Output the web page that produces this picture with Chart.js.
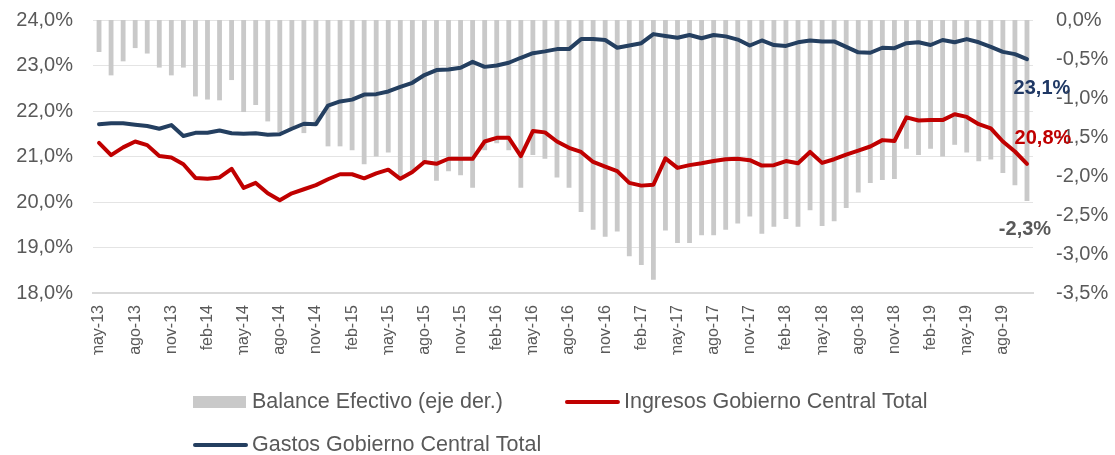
<!DOCTYPE html>
<html>
<head>
<meta charset="utf-8">
<script src="https://cdn.jsdelivr.net/npm/chart.js@4/dist/chart.umd.min.js"></script>
<style>
  html, body { margin: 0; padding: 0; background: #fff; }
  canvas { display: block; }
</style>
</head>
<body>
<canvas id="fiscalChart" width="1115" height="455"></canvas>
<script>
// Meses (may-13 .. oct-19)
const months = [
  'may-13','jun-13','jul-13','ago-13','sep-13','oct-13','nov-13','dic-13',
  'ene-14','feb-14','mar-14','abr-14','may-14','jun-14','jul-14','ago-14','sep-14','oct-14','nov-14','dic-14',
  'ene-15','feb-15','mar-15','abr-15','may-15','jun-15','jul-15','ago-15','sep-15','oct-15','nov-15','dic-15',
  'ene-16','feb-16','mar-16','abr-16','may-16','jun-16','jul-16','ago-16','sep-16','oct-16','nov-16','dic-16',
  'ene-17','feb-17','mar-17','abr-17','may-17','jun-17','jul-17','ago-17','sep-17','oct-17','nov-17','dic-17',
  'ene-18','feb-18','mar-18','abr-18','may-18','jun-18','jul-18','ago-18','sep-18','oct-18','nov-18','dic-18',
  'ene-19','feb-19','mar-19','abr-19','may-19','jun-19','jul-19','ago-19','sep-19','oct-19'
];

// Balance Efectivo (% PIB, eje derecho)
const balance = [
  -0.41,-0.71,-0.53,-0.36,-0.43,-0.61,-0.71,-0.61,-0.98,-1.02,
  -1.03,-0.77,-1.18,-1.09,-1.30,-1.44,-1.40,-1.45,-1.35,-1.62,
  -1.62,-1.67,-1.85,-1.75,-1.70,-2.03,-1.93,-1.82,-2.06,-1.94,
  -1.99,-2.15,-1.67,-1.58,-1.67,-2.15,-1.73,-1.78,-2.02,-2.15,
  -2.46,-2.69,-2.78,-2.71,-3.03,-3.14,-3.33,-2.70,-2.86,-2.86,
  -2.76,-2.76,-2.69,-2.61,-2.52,-2.74,-2.65,-2.55,-2.65,-2.44,
  -2.64,-2.58,-2.41,-2.21,-2.09,-2.05,-2.04,-1.65,-1.73,-1.65,
  -1.75,-1.60,-1.70,-1.81,-1.79,-1.96,-2.12,-2.32
];

// Ingresos Gobierno Central Total (% PIB)
const ingresos = [
  21.30,21.03,21.20,21.33,21.25,21.01,20.98,20.83,20.53,20.51,
  20.54,20.73,20.31,20.42,20.19,20.04,20.19,20.28,20.37,20.50,
  20.61,20.61,20.52,20.63,20.71,20.51,20.66,20.88,20.84,20.95,
  20.95,20.95,21.33,21.41,21.41,21.01,21.56,21.53,21.33,21.19,
  21.10,20.88,20.78,20.68,20.42,20.36,20.38,20.96,20.75,20.81,
  20.85,20.90,20.94,20.95,20.92,20.80,20.81,20.90,20.85,21.10,
  20.86,20.94,21.04,21.13,21.22,21.36,21.34,21.86,21.79,21.80,
  21.80,21.93,21.87,21.71,21.62,21.33,21.11,20.84
];

// Gastos Gobierno Central Total (% PIB)
const gastos = [
  21.71,21.73,21.73,21.70,21.67,21.61,21.69,21.45,21.52,21.52,
  21.57,21.51,21.50,21.51,21.48,21.49,21.61,21.72,21.71,22.12,
  22.21,22.25,22.36,22.37,22.43,22.53,22.62,22.79,22.90,22.91,
  22.95,23.08,22.97,23.00,23.06,23.17,23.27,23.31,23.36,23.36,
  23.58,23.58,23.56,23.39,23.44,23.49,23.69,23.65,23.61,23.67,
  23.60,23.67,23.64,23.57,23.44,23.55,23.45,23.43,23.51,23.55,
  23.53,23.53,23.41,23.29,23.28,23.39,23.38,23.49,23.51,23.45,
  23.56,23.51,23.58,23.51,23.41,23.30,23.25,23.14
];

const leftTicks = { min: 18, max: 24, step: 1 };
const rightTicks = { min: -3.5, max: 0, step: 0.5 };

const NAVY = '#243f60';
const RED = '#c00000';
const BAR_GRAY = '#c9c9c9';
const TEXT_GRAY = '#595959';
const FONT = '"Liberation Sans", Arial, sans-serif';

function pct(v) {
    const s = Math.abs(v) < 1e-9 ? '0,0' : v.toFixed(1).replace('.', ',');
    return s + '%';
}

// the y axes add tick padding to their top/bottom padding, drop it so the plot starts at the layout top
function pinWidth(w) {
    return function(scale) {
        scale.width = w;
        scale.paddingTop = 0;
        scale.paddingBottom = 0;
    };
}

// Etiquetas del último dato y leyenda dibujada a mano (dos filas, alineada a la izquierda)
const extrasPlugin = {
    id: 'extras',
    afterDraw(chart) {
        const ctx = chart.ctx;
        const last = months.length - 1;
        ctx.save();
        ctx.textAlign = 'center';
        ctx.textBaseline = 'middle';
        ctx.font = 'bold 20px ' + FONT;

        const pGastos = chart.getDatasetMeta(0).data[last];
        const pIngresos = chart.getDatasetMeta(1).data[last];
        const pBalance = chart.getDatasetMeta(2).data[last];

        ctx.fillStyle = '#1f3864';
        ctx.fillText(pct(gastos[last]), pGastos.x + 15, pGastos.y + 29);
        ctx.fillStyle = RED;
        ctx.fillText(pct(ingresos[last]), pIngresos.x + 16, pIngresos.y - 25);
        ctx.fillStyle = TEXT_GRAY;
        ctx.fillText(pct(balance[last]), pBalance.x - 2, pBalance.y + 29);

        // leyenda
        const ds = chart.data.datasets;
        const x0 = chart.chartArea.left + 100;
        const row1 = 402, row2 = 445;
        const symW = 53, gap = 6;
        ctx.font = '21.5px ' + FONT;
        ctx.textAlign = 'left';

        // Balance
        ctx.fillStyle = BAR_GRAY;
        ctx.fillRect(x0, row1 - 6, symW, 12);
        ctx.fillStyle = TEXT_GRAY;
        ctx.fillText(ds[2].label, x0 + symW + gap, row1);
        const x1 = x0 + symW + gap + ctx.measureText(ds[2].label).width + 62;

        // Ingresos
        ctx.strokeStyle = RED;
        ctx.lineWidth = 4;
        ctx.lineCap = 'round';
        ctx.beginPath();
        ctx.moveTo(x1 + 2, row1);
        ctx.lineTo(x1 + symW, row1);
        ctx.stroke();
        ctx.fillText(ds[1].label, x1 + symW + gap, row1);

        // Gastos
        ctx.strokeStyle = NAVY;
        ctx.beginPath();
        ctx.moveTo(x0 + 2, row2);
        ctx.lineTo(x0 + symW, row2);
        ctx.stroke();
        ctx.fillText(ds[0].label, x0 + symW + gap, row2);
        ctx.restore();
    }
};

const ctx = document.getElementById('fiscalChart').getContext('2d');
new Chart(ctx, {
    type: 'bar',
    data: {
        labels: months,
        datasets: [
            {
                type: 'line',
                label: 'Gastos Gobierno Central Total',
                data: gastos,
                yAxisID: 'y',
                borderColor: NAVY,
                borderWidth: 4,
                pointRadius: 0,
                tension: 0,
                borderJoinStyle: 'round',
                borderCapStyle: 'round',
                order: 1
            },
            {
                type: 'line',
                label: 'Ingresos Gobierno Central Total',
                data: ingresos,
                yAxisID: 'y',
                borderColor: RED,
                borderWidth: 4,
                pointRadius: 0,
                tension: 0,
                borderJoinStyle: 'round',
                borderCapStyle: 'round',
                order: 2
            },
            {
                type: 'bar',
                label: 'Balance Efectivo (eje der.)',
                data: balance,
                yAxisID: 'y1',
                backgroundColor: BAR_GRAY,
                barPercentage: 0.4,
                categoryPercentage: 1,
                order: 3
            }
        ]
    },
    options: {
        responsive: false,
        devicePixelRatio: 1,
        animation: false,
        layout: { padding: { top: 20, left: 0, right: 0, bottom: 100 } },
        plugins: {
            legend: { display: false },
            tooltip: { enabled: false }
        },
        scales: {
            x: {
                offset: true,
                grid: { display: false, drawTicks: false },
                border: { display: true, color: '#d9d9d9', width: 2 },
                ticks: {
                    autoSkip: false,
                    maxRotation: 90,
                    minRotation: 90,
                    padding: 12,
                    color: TEXT_GRAY,
                    font: { family: FONT, size: 16 },
                    callback: function(value, index) {
                        return index % 3 === 0 ? this.getLabelForValue(value) : '';
                    }
                },
                afterFit: function(scale) { scale.height = 62; }
            },
            y: {
                position: 'left',
                min: leftTicks.min,
                max: leftTicks.max,
                grid: { color: '#e4e4e4', lineWidth: 1, drawTicks: false },
                border: { display: false },
                ticks: {
                    stepSize: leftTicks.step,
                    padding: 20,
                    color: TEXT_GRAY,
                    font: { family: FONT, size: 20 },
                    callback: v => pct(v)
                },
                afterFit: pinWidth(93)
            },
            y1: {
                position: 'right',
                min: rightTicks.min,
                max: rightTicks.max,
                grid: { display: false, drawTicks: false },
                border: { display: false },
                ticks: {
                    stepSize: rightTicks.step,
                    padding: 23,
                    color: TEXT_GRAY,
                    font: { family: FONT, size: 20 },
                    callback: v => pct(v)
                },
                afterFit: pinWidth(82)
            }
        }
    },
    plugins: [extrasPlugin]
});
</script>
</body>
</html>
